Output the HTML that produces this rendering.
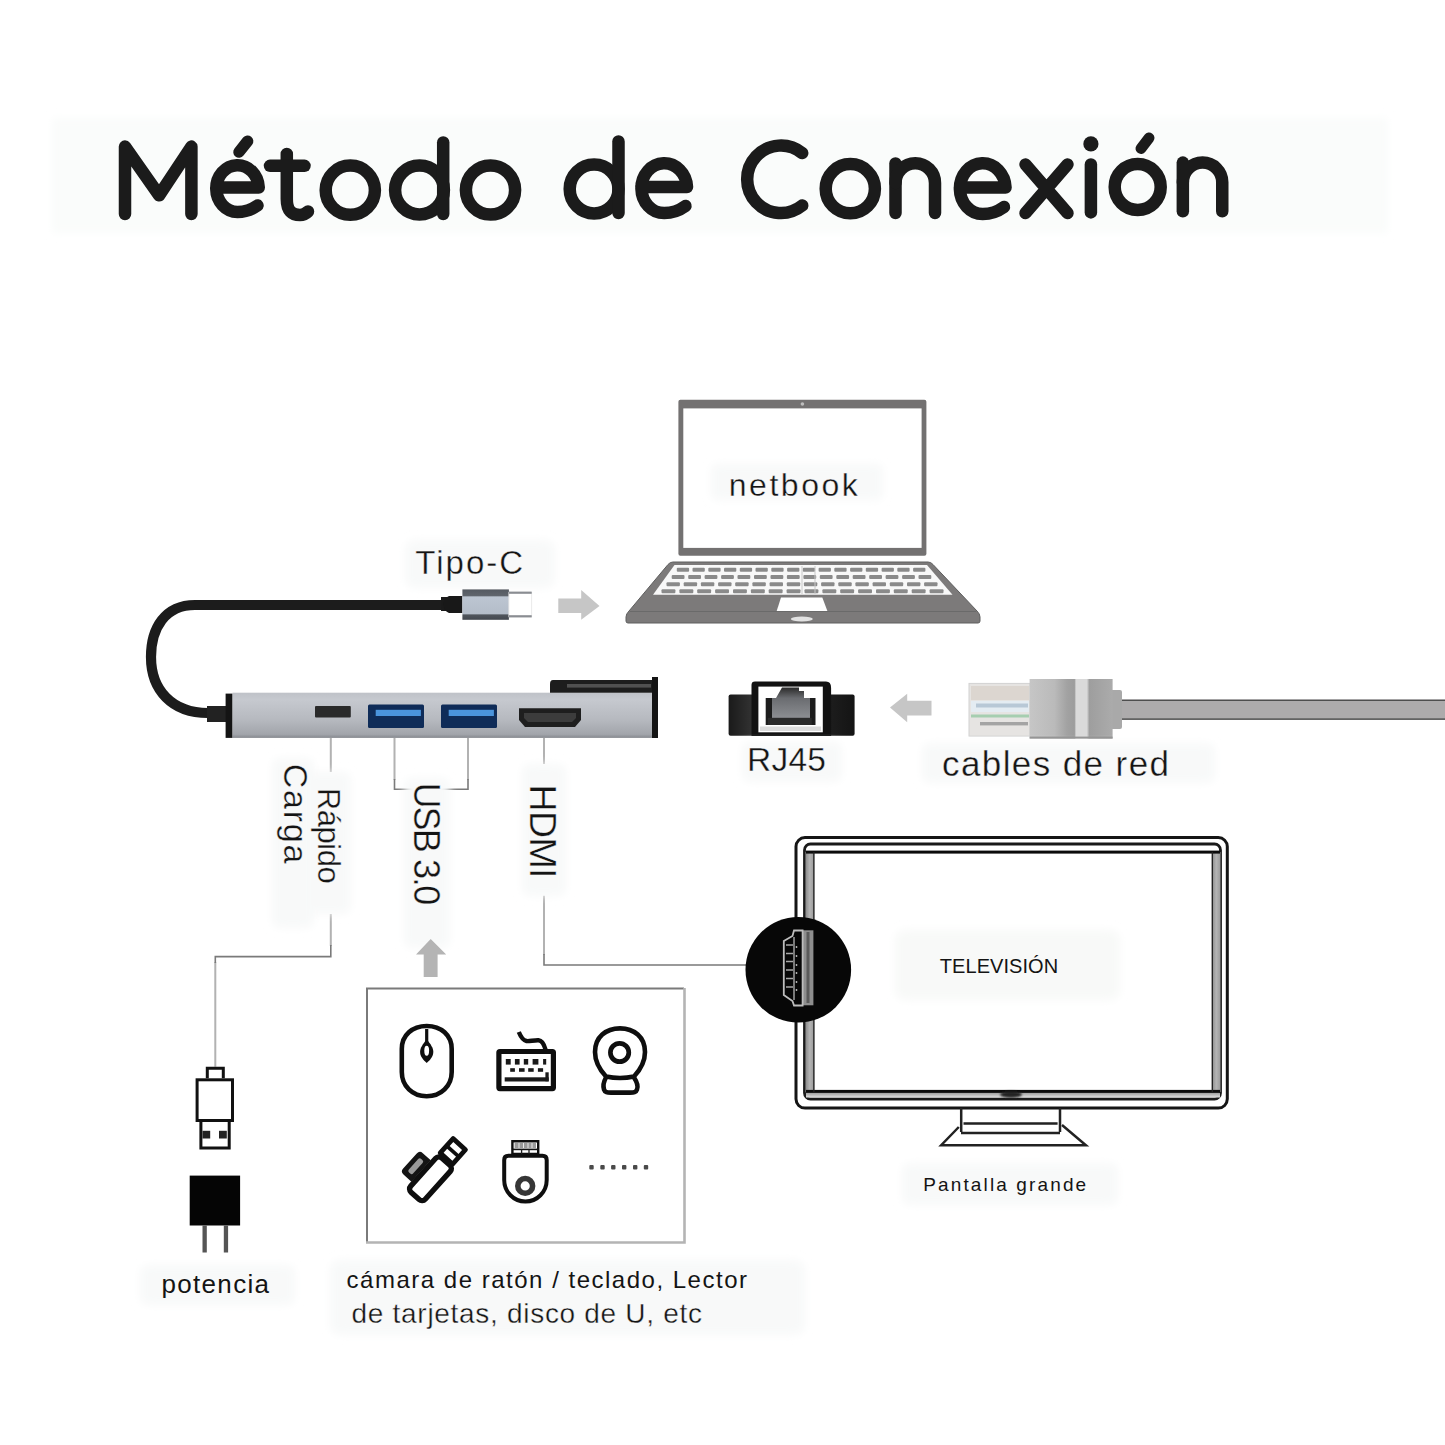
<!DOCTYPE html>
<html><head><meta charset="utf-8">
<style>
html,body{margin:0;padding:0;background:#fff;}
body{width:1445px;height:1445px;overflow:hidden;}
svg{display:block;}
text{font-family:"Liberation Sans",sans-serif;stroke:#fcfcfc;stroke-width:0.35px;}
text.sm{stroke:none;}
</style></head>
<body>
<svg width="1445" height="1445" viewBox="0 0 1445 1445">
<defs>
  <filter id="soft" x="-20%" y="-20%" width="140%" height="140%"><feGaussianBlur stdDeviation="4"/></filter>
  <filter id="soft2" x="-50%" y="-50%" width="200%" height="200%"><feGaussianBlur stdDeviation="1.2"/></filter>
  <linearGradient id="hubg" x1="0" y1="0" x2="0" y2="1">
    <stop offset="0" stop-color="#bfc2c8"/>
    <stop offset="0.15" stop-color="#c6c9cf"/>
    <stop offset="0.6" stop-color="#b6b9bf"/>
    <stop offset="0.92" stop-color="#a2a5ab"/>
    <stop offset="1" stop-color="#85888e"/>
  </linearGradient>
  <linearGradient id="tcg" x1="0" y1="0" x2="0" y2="1">
    <stop offset="0" stop-color="#555a61"/>
    <stop offset="0.2" stop-color="#5f646b"/>
    <stop offset="0.25" stop-color="#bcc5d1"/>
    <stop offset="0.8" stop-color="#b4bdc9"/>
    <stop offset="0.84" stop-color="#50555c"/>
    <stop offset="1" stop-color="#43484f"/>
  </linearGradient>
</defs>
<rect x="0" y="0" width="1445" height="1445" fill="#ffffff"/>
<!-- title band -->
<rect x="52" y="118" width="1336" height="115" fill="#fafcfb" filter="url(#soft)"/>

<!-- TITLE -->
<g fill="none" stroke="#1b1b1b" stroke-width="12.5" stroke-linecap="round" stroke-linejoin="round">
  <path d="M125 214 V146.6 L159.2 195.3 L191.4 146.6 V214"/>
  <path d="M216.25 187.5 H258.75 A21.25 23.35 0 1 0 237.5 211.95 C246.5 211.95 252.5 209 257.5 205.5"/>
  <path d="M239 152 L247.6 141.2" stroke-width="11.5"/>
  <path d="M286.8 153.9 V199 C286.8 211 292 215 300 215 C303.5 215 306 213.5 308 211.5"/>
  <path d="M270 165.8 H304.5"/>
  <circle cx="350.3" cy="190.2" r="24.6"/>
  <circle cx="419.5" cy="190" r="24.4"/>
  <path d="M443.2 142.4 V214"/>
  <circle cx="490.5" cy="190" r="24.6"/>
  <circle cx="594.1" cy="189" r="24.4"/>
  <path d="M618.5 141.5 V213"/>
  <path d="M641.4 187 H687 A22.8 24.9 0 1 0 664.2 213.1 C673.5 213.1 680 210 685.5 206"/>
  <path d="M802.2 153.1 A33.75 33.75 0 1 0 802.2 205.5"/>
  <circle cx="850.3" cy="188.7" r="24.6"/>
  <path d="M895.5 213 V163.5"/>
  <path d="M895.5 183 A19.75 19.75 0 0 1 935 183 V213"/>
  <path d="M959.85 187.5 H1005.55 A22.85 25.4 0 1 0 982.7 214.05 C992 214.05 998.5 211 1004 207"/>
  <path d="M1025.5 164.5 L1067.5 213 M1067.5 164.5 L1025.5 213"/>
  <path d="M1090.9 164.5 V212.4"/>
  <circle cx="1137.7" cy="187" r="23"/>
  <path d="M1141 148.5 L1149 138" stroke-width="11"/>
  <path d="M1182.85 211.35 V162.6"/>
  <path d="M1182.85 182.25 A19.7 19.7 0 0 1 1222.25 182.25 V211.35"/>
</g>
<circle cx="1090.9" cy="143.9" r="7.6" fill="#1b1b1b"/>


<!-- LAPTOP -->
<rect x="678.4" y="399.7" width="248" height="156" rx="2" fill="#737171"/>
<rect x="683.3" y="408.4" width="238.3" height="139.5" fill="#ffffff"/>
<circle cx="802.4" cy="404" r="1.8" fill="#bdbdbd"/>
<rect x="711" y="464" width="172" height="36" rx="6" fill="#f8f9f9" filter="url(#soft)"/>
<text x="728.8" y="495.6" font-size="32" fill="#141414" textLength="129" lengthAdjust="spacing">netbook</text>
<path d="M673 562 H928 Q931 562 933 564.5 L977 611 Q980 614 980 617 V621 Q980 623 978 623 H628 Q626 623 626 621 V617 Q626 614 629 611 L668 564.5 Q670 562 673 562 Z" fill="#7c7a7a" stroke="#5e5e5e" stroke-width="1"/>
<path d="M674.5 565 H927 L952.5 594.8 H653 Z" fill="#f8f8f8"/>
<g fill="#8a8a8a"><rect x="676.8" y="567.8" width="12.3" height="4" rx="1"/><rect x="692.5" y="567.8" width="12.3" height="4" rx="1"/><rect x="708.3" y="567.8" width="12.3" height="4" rx="1"/><rect x="724.0" y="567.8" width="12.3" height="4" rx="1"/><rect x="739.8" y="567.8" width="12.3" height="4" rx="1"/><rect x="755.5" y="567.8" width="12.3" height="4" rx="1"/><rect x="771.3" y="567.8" width="12.3" height="4" rx="1"/><rect x="787.1" y="567.8" width="12.3" height="4" rx="1"/><rect x="802.8" y="567.8" width="12.3" height="4" rx="1"/><rect x="818.6" y="567.8" width="12.3" height="4" rx="1"/><rect x="834.3" y="567.8" width="12.3" height="4" rx="1"/><rect x="850.1" y="567.8" width="12.3" height="4" rx="1"/><rect x="865.8" y="567.8" width="12.3" height="4" rx="1"/><rect x="881.6" y="567.8" width="12.3" height="4" rx="1"/><rect x="897.3" y="567.8" width="12.3" height="4" rx="1"/><rect x="913.1" y="567.8" width="12.3" height="4" rx="1"/><rect x="671.7" y="574.9" width="12.8" height="4" rx="1"/><rect x="688.2" y="574.9" width="12.8" height="4" rx="1"/><rect x="704.6" y="574.9" width="12.8" height="4" rx="1"/><rect x="721.1" y="574.9" width="12.8" height="4" rx="1"/><rect x="737.5" y="574.9" width="12.8" height="4" rx="1"/><rect x="754.0" y="574.9" width="12.8" height="4" rx="1"/><rect x="770.5" y="574.9" width="12.8" height="4" rx="1"/><rect x="786.9" y="574.9" width="12.8" height="4" rx="1"/><rect x="803.4" y="574.9" width="12.8" height="4" rx="1"/><rect x="819.8" y="574.9" width="12.8" height="4" rx="1"/><rect x="836.3" y="574.9" width="12.8" height="4" rx="1"/><rect x="852.7" y="574.9" width="12.8" height="4" rx="1"/><rect x="869.2" y="574.9" width="12.8" height="4" rx="1"/><rect x="885.6" y="574.9" width="12.8" height="4" rx="1"/><rect x="902.1" y="574.9" width="12.8" height="4" rx="1"/><rect x="918.5" y="574.9" width="12.8" height="4" rx="1"/><rect x="666.5" y="582.2" width="13.4" height="4" rx="1"/><rect x="683.7" y="582.2" width="13.4" height="4" rx="1"/><rect x="700.9" y="582.2" width="13.4" height="4" rx="1"/><rect x="718.1" y="582.2" width="13.4" height="4" rx="1"/><rect x="735.2" y="582.2" width="13.4" height="4" rx="1"/><rect x="752.4" y="582.2" width="13.4" height="4" rx="1"/><rect x="769.6" y="582.2" width="13.4" height="4" rx="1"/><rect x="786.8" y="582.2" width="13.4" height="4" rx="1"/><rect x="803.9" y="582.2" width="13.4" height="4" rx="1"/><rect x="821.1" y="582.2" width="13.4" height="4" rx="1"/><rect x="838.3" y="582.2" width="13.4" height="4" rx="1"/><rect x="855.4" y="582.2" width="13.4" height="4" rx="1"/><rect x="872.6" y="582.2" width="13.4" height="4" rx="1"/><rect x="889.8" y="582.2" width="13.4" height="4" rx="1"/><rect x="907.0" y="582.2" width="13.4" height="4" rx="1"/><rect x="924.1" y="582.2" width="13.4" height="4" rx="1"/><rect x="661.5" y="589.3" width="13.9" height="4" rx="1"/><rect x="679.4" y="589.3" width="13.9" height="4" rx="1"/><rect x="697.2" y="589.3" width="13.9" height="4" rx="1"/><rect x="715.1" y="589.3" width="13.9" height="4" rx="1"/><rect x="733.0" y="589.3" width="13.9" height="4" rx="1"/><rect x="750.9" y="589.3" width="13.9" height="4" rx="1"/><rect x="768.7" y="589.3" width="13.9" height="4" rx="1"/><rect x="786.6" y="589.3" width="13.9" height="4" rx="1"/><rect x="804.5" y="589.3" width="13.9" height="4" rx="1"/><rect x="822.4" y="589.3" width="13.9" height="4" rx="1"/><rect x="840.2" y="589.3" width="13.9" height="4" rx="1"/><rect x="858.1" y="589.3" width="13.9" height="4" rx="1"/><rect x="876.0" y="589.3" width="13.9" height="4" rx="1"/><rect x="893.8" y="589.3" width="13.9" height="4" rx="1"/><rect x="911.7" y="589.3" width="13.9" height="4" rx="1"/><rect x="929.6" y="589.3" width="13.9" height="4" rx="1"/></g><path d="M802 566 V594 M815 566 V594" stroke="#c8c8c8" stroke-width="1"/>
<path d="M781 597.4 H822.3 L827.4 611 H776.7 Z" fill="#ffffff"/>
<rect x="630" y="611" width="346" height="1" fill="#6a6a6a"/>
<ellipse cx="801.8" cy="619" rx="11" ry="2.6" fill="#e2e2e2"/>

<!-- TIPO-C label + connector -->
<rect x="405" y="540" width="150" height="48" rx="10" fill="#f8f9f9" filter="url(#soft)"/>
<text x="415.2" y="574.2" font-size="33" fill="#141414" textLength="108" lengthAdjust="spacing">Tipo-C</text>
<path d="M441 605 H195 C165 605 151 628 151 657 C151 690 172 713 208 713" fill="none" stroke="#1c1c1c" stroke-width="10.2"/>
<rect x="207" y="706" width="19" height="16" fill="#222"/>
<rect x="441" y="597" width="10" height="14" fill="#1a1a1a"/>
<path d="M449 596 H462.4 V613 H449 Q444 611 443 604.5 Q444 598 449 596 Z" fill="#181818"/>
<rect x="462.4" y="589.4" width="46.5" height="30.4" fill="url(#tcg)"/>
<rect x="508.9" y="592.4" width="22.8" height="24.4" fill="#ffffff" stroke="#e4e4e4" stroke-width="0.8"/>
<rect x="508.9" y="591.6" width="22.8" height="2.2" fill="#8a8d92"/>
<rect x="508.9" y="615.2" width="22.8" height="2.2" fill="#8a8d92"/>
<path d="M558.3 598.5 H581.2 V590 L599.5 606 L581.2 619.8 V613 H558.3 Z" fill="#c6c6c6"/>

<!-- HUB -->
<rect x="225.6" y="693.6" width="7" height="44.3" fill="#141414"/>
<rect x="232.5" y="692.7" width="420" height="45.2" fill="url(#hubg)"/>
<path d="M553 680 H654 V692.7 H550 V684 Q550 680 553 680 Z" fill="#1d1d1d"/>
<rect x="567" y="684" width="84" height="3.6" fill="#505050"/>
<rect x="652" y="677" width="6" height="61" fill="#141414"/>
<rect x="315" y="706" width="35.8" height="11.6" rx="1" fill="#2a2a2a"/>
<rect x="368" y="704.5" width="56" height="23.4" rx="1.5" fill="#0f2c58"/>
<rect x="375.7" y="709.8" width="45.2" height="6.2" fill="#4a94dc"/>
<rect x="441" y="704.5" width="56" height="23.4" rx="1.5" fill="#0f2c58"/>
<rect x="448.7" y="709.8" width="45.2" height="6.2" fill="#4a94dc"/>
<path d="M519 708.3 H581 V720 L575 727 H525 L519 720 Z" fill="#1e1e1e"/>
<path d="M524 713 H576 V718 L572 722 H528 L524 718 Z" fill="#3c3c3c"/>

<!-- leader lines -->
<g stroke="#b2b2b2" stroke-width="2" fill="none">
  <path d="M330.8 738 V772 M330.8 914 V946 M215.3 962 V1066.8"/>
  <path d="M394.5 738 V780 M468 738 V780"/>
  <path d="M544 738 V764 M544 895.7 V955"/>
</g>
<g stroke="#7a7a7a" stroke-width="1.6" fill="none">
  <path d="M330.8 945 V956.6 H215.3 V963"/>
  <path d="M394.5 779 V789.3 H414 M440 789.3 H468 V779"/>
  <path d="M544 954 V965 H746"/>
</g>

<!-- RJ45 port -->
<defs><linearGradient id="wing" x1="0" y1="0" x2="1" y2="0">
<stop offset="0" stop-color="#1a1a1a"/><stop offset="0.25" stop-color="#3a3a3a"/><stop offset="0.6" stop-color="#262626"/><stop offset="1" stop-color="#141414"/>
</linearGradient>
<linearGradient id="jack" x1="0" y1="0" x2="0" y2="1">
<stop offset="0" stop-color="#2a2a2a"/><stop offset="0.35" stop-color="#6a6c70"/><stop offset="1" stop-color="#8c8e92"/>
</linearGradient></defs>
<rect x="728.6" y="694.4" width="126" height="41.4" rx="2" fill="url(#wing)"/>
<path d="M751.5 736 V685 Q751.5 681.6 755 681.6 H826 Q831.1 681.6 831.1 688 V736 Z" fill="#121212"/>
<rect x="758.4" y="686.6" width="64.4" height="45.7" fill="#ffffff"/>
<rect x="765.7" y="698" width="49.8" height="27" fill="#1c1c1c"/>
<path d="M776 698 L782 687.5 H799 V691 H804 V698 H810 V718 H772 V698 Z" fill="url(#jack)"/>
<rect x="767.8" y="717.8" width="44" height="7.2" fill="#2a2a2a"/>
<rect x="760" y="726.5" width="61" height="4.5" fill="#dcdcdc"/>
<path d="M890 707.6 L907.2 693.7 V700.7 H931.5 V715.4 H907.2 V722.3 Z" fill="#c6c6c6"/>
<rect x="742" y="742" width="100" height="40" rx="8" fill="#f8f9f9" filter="url(#soft)"/>
<text x="747" y="770.7" font-size="33.5" fill="#141414" textLength="79" lengthAdjust="spacing">RJ45</text>

<!-- network cable -->
<rect x="1122" y="699.6" width="323" height="20.2" fill="#adabac"/>
<rect x="1122" y="699.6" width="323" height="1.4" fill="#4e4e4e"/>
<rect x="1122" y="718.4" width="323" height="1.4" fill="#4e4e4e"/>
<rect x="1110" y="690" width="12" height="39" rx="2" fill="#a9a9a9"/>
<defs><linearGradient id="boot" x1="0" y1="0" x2="1" y2="0">
<stop offset="0" stop-color="#c6c6c6"/><stop offset="0.3" stop-color="#bababa"/><stop offset="0.45" stop-color="#a2a2a2"/><stop offset="0.54" stop-color="#9c9c9c"/><stop offset="0.56" stop-color="#dadada"/><stop offset="0.69" stop-color="#dadada"/><stop offset="0.72" stop-color="#9e9e9e"/><stop offset="1" stop-color="#ababab"/>
</linearGradient></defs>
<rect x="969" y="683.4" width="61" height="52.7" fill="#e6e4e2" stroke="#d2d2d2" stroke-width="1"/>
<rect x="971" y="686" width="58" height="14" fill="#dcd6d0"/>
<rect x="971" y="701" width="58" height="11" fill="#e4ecf2"/>
<rect x="976" y="703.5" width="52" height="4" fill="#b8c8d6"/>
<rect x="971" y="714.5" width="58" height="3" fill="#a6ceb0"/>
<rect x="980" y="722" width="48" height="3.4" fill="#a4a4a4"/>
<rect x="1029.6" y="679" width="83" height="59.7" fill="url(#boot)"/>
<rect x="1029.6" y="736.6" width="83" height="2" fill="#8a8a8a"/>
<rect x="922" y="743" width="293" height="40" rx="8" fill="#f8f9f9" filter="url(#soft)"/>
<text x="942" y="775.9" font-size="35" fill="#141414" textLength="227" lengthAdjust="spacing">cables de red</text>


<!-- vertical labels -->
<rect x="303" y="772" width="48" height="142" rx="8" fill="#f8f9f9" filter="url(#soft)"/>
<rect x="272" y="758" width="42" height="170" rx="8" fill="#f8f9f9" filter="url(#soft)"/>
<rect x="404" y="778" width="46" height="170" rx="8" fill="#f8f9f9" filter="url(#soft)"/>
<rect x="522" y="764" width="44" height="132" rx="8" fill="#f8f9f9" filter="url(#soft)"/>
<text transform="translate(317.9 787.8) rotate(90)" font-size="31" fill="#141414" textLength="96" lengthAdjust="spacing">Rápido</text>
<text transform="translate(283.5 763.8) rotate(90)" font-size="34" fill="#141414" textLength="99.5" lengthAdjust="spacing">Carga</text>
<text transform="translate(414.2 782.5) rotate(90)" font-size="36" fill="#141414" textLength="122.7" lengthAdjust="spacing">USB 3.0</text>
<text transform="translate(529.9 784.5) rotate(90)" font-size="37.5" fill="#141414" textLength="94" lengthAdjust="spacing">HDMI</text>
<path d="M430.7 939 L446.2 954.5 H437.6 V977 H423.7 V954.5 H416 Z" fill="#b4b4b4"/>

<!-- TV -->
<defs>
<linearGradient id="tvbar" x1="0" y1="0" x2="1" y2="0">
  <stop offset="0" stop-color="#8a8a8a"/><stop offset="0.5" stop-color="#b4b4b4"/><stop offset="1" stop-color="#9a9a9a"/>
</linearGradient>
<linearGradient id="tvband" x1="0" y1="0" x2="0" y2="1">
  <stop offset="0" stop-color="#9a9a9a"/><stop offset="1" stop-color="#e0e0e0"/>
</linearGradient>
</defs>
<rect x="796" y="837.6" width="431.3" height="270.5" rx="9" fill="#ffffff" stroke="#151515" stroke-width="3"/>
<rect x="804.5" y="844" width="416" height="255" rx="6" fill="#ffffff" stroke="#1a1a1a" stroke-width="2.8"/>
<rect x="805.5" y="852" width="8.5" height="240" fill="url(#tvbar)"/>
<rect x="1212" y="852" width="8.5" height="240" fill="url(#tvbar)"/>
<rect x="806" y="1092.5" width="414" height="5" fill="url(#tvband)"/>
<rect x="806" y="850.6" width="414" height="3" fill="#0c0c0c"/>
<rect x="806" y="1089.9" width="414" height="3" fill="#0c0c0c"/>
<rect x="813.2" y="852" width="1.4" height="240" fill="#222"/>
<rect x="1211.6" y="852" width="1.4" height="240" fill="#222"/>
<ellipse cx="1011" cy="1094.5" rx="11" ry="3.2" fill="#222" filter="url(#soft2)"/>
<g fill="none" stroke="#222" stroke-width="2.5">
  <path d="M961.2 1108 V1132 M1060 1108 V1132"/>
  <path d="M963.5 1123.5 H1057.6 M961 1133 H1060"/>
  <path d="M958.8 1127 L941.2 1145.2 H1085.9 L1062 1125"/>
</g>
<rect x="895" y="930" width="225" height="70" rx="10" fill="#f8f9f8" filter="url(#soft)"/>
<text class="sm" x="939.8" y="972.9" font-size="20" fill="#141414" textLength="118.4" lengthAdjust="spacing">TELEVISIÓN</text>
<rect x="902" y="1163" width="216" height="42" rx="8" fill="#f8f9f9" filter="url(#soft)"/>
<text class="sm" x="923.2" y="1190.9" font-size="19" fill="#141414" textLength="163" lengthAdjust="spacing">Pantalla grande</text>
<circle cx="798.3" cy="969.8" r="52.8" fill="#070707"/>
<rect x="802.6" y="930.3" width="10.8" height="75" fill="#8e8e8e"/>
<rect x="806.5" y="932" width="3" height="71" fill="#5a5a5a"/>
<path d="M802.6 930.5 V1005.5 H794 L792.5 1001 L783.8 995 V941 L792.5 936 L794 930.5 Z" fill="none" stroke="#bdbdbd" stroke-width="1.8"/>
<path d="M786 945 H793 M786 953.5 H793 M786 961.5 H793 M786 970 H793 M786 978.5 H793 M786 987 H793" stroke="#a8a8a8" stroke-width="1.5"/>
<path d="M794 937 V1000" stroke="#a0a0a0" stroke-width="1.5"/>
<g fill="#c0c0c0"><circle cx="796.5" cy="947" r="0.9"/><circle cx="796.5" cy="956" r="0.9"/><circle cx="796.5" cy="965" r="0.9"/><circle cx="796.5" cy="973" r="0.9"/><circle cx="796.5" cy="982" r="0.9"/><circle cx="796.5" cy="990" r="0.9"/></g>

<!-- icons box -->
<path d="M367 1242 V988.5 H684" fill="none" stroke="#7a7a7a" stroke-width="2"/>
<path d="M684.5 988 V1242.5 H366" fill="none" stroke="#b4b4b4" stroke-width="2.6"/>
<g fill="none" stroke="#0e0e0e" stroke-width="4.6" stroke-linecap="round" stroke-linejoin="round">
  <path d="M426.7 1026 C441 1026 451.7 1035 451.7 1049 V1072 C451.7 1086 441 1096.3 426.7 1096.3 C412.4 1096.3 401.8 1086 401.8 1072 V1049 C401.8 1035 412.4 1026 426.7 1026 Z"/>
  <rect x="498.9" y="1051.5" width="54.5" height="37.1" rx="1" stroke-width="5.2" stroke-linejoin="miter"/>
  <path d="M545.5 1049.5 C544 1044 542 1040.5 538.5 1040.2 C534 1040 529 1041.5 526.5 1041 C522 1040 520 1035 518.8 1032" stroke-width="4.4" stroke-linecap="butt"/>
  <path d="M606 1076.5 C599 1069 595 1062 595 1052 C595 1037 606 1028.4 620 1028.4 C634 1028.4 645 1037 645 1052 C645 1062 641 1069 634 1076.5 Q620 1079.5 606 1076.5 Z"/>
  <circle cx="619.6" cy="1052.5" r="9.2" stroke-width="4.7"/>
  <path d="M606 1077.5 C603.5 1082 603.2 1087 604 1089.5 C605 1092.5 607 1092.6 611 1092.6 H630 C634 1092.6 636 1092.5 637 1089.5 C638 1087 637 1082 634 1077.5"/>
  <path d="M504.2 1160 Q504.2 1155.8 508.4 1155.8 H542.5 Q546.7 1155.8 546.7 1160 V1180 A21.25 21.6 0 0 1 504.2 1180 Z" stroke-width="4"/>
  <path d="M512.4 1141.2 H538.2 V1154 H512.4 Z" stroke-width="2.4" stroke-linejoin="miter"/>
</g>
<path d="M426.7 1029 V1045" stroke="#0e0e0e" stroke-width="3.2"/>
<path d="M426.7 1039.5 C431 1044.5 433.3 1048 433.3 1052 C433.3 1056.5 430 1060 426.7 1063 C423.4 1060 420.1 1056.5 420.1 1052 C420.1 1048 422.5 1044.5 426.7 1039.5 Z" fill="#0e0e0e"/>
<ellipse cx="426.7" cy="1050.8" rx="2.4" ry="5" fill="#fff"/>
<g fill="#1a1a1a">
  <rect x="505.8" y="1059" width="4.9" height="5.6"/><rect x="514.9" y="1059" width="4.7" height="5.6"/><rect x="523.8" y="1059" width="4.4" height="5.6"/><rect x="532.6" y="1059" width="5.8" height="5.6"/><rect x="543.1" y="1059" width="3.1" height="5.6"/>
  <rect x="510.2" y="1068.2" width="4.7" height="3.6"/><rect x="519" y="1068.2" width="5.6" height="3.6"/><rect x="528.2" y="1068.2" width="5.5" height="3.6"/><rect x="537.9" y="1068.2" width="5.2" height="3.6"/>
  <rect x="504.7" y="1077.3" width="44" height="4.2"/><rect x="545.4" y="1072.3" width="3.3" height="9"/>
</g>
<rect x="514.6" y="1143" width="21.4" height="5" fill="#9a9a9a"/>
<path d="M519 1143 V1148 M523.5 1143 V1148 M528 1143 V1148 M532 1143 V1148" stroke="#e8e8e8" stroke-width="1"/>
<path d="M512.4 1149.4 H538.2" stroke="#111" stroke-width="1.6"/>
<path d="M521.6 1149.5 V1154 M529 1149.5 V1154" stroke="#222" stroke-width="1.3"/>
<circle cx="525.2" cy="1185.9" r="7.4" fill="none" stroke="#363636" stroke-width="5.6"/>
<!-- usb stick rotated -->
<g transform="translate(430.2 1178.5) rotate(-48) scale(1.07)">
  <path d="M-14 -11 V-21 Q-14 -25 -10 -25 H9 Q13 -25 13 -21 V-11 Z" fill="#141414"/>
  <rect x="-9" y="-20.5" width="17" height="5.5" rx="2" fill="#9a9a9a"/>
  <g fill="none" stroke="#0e0e0e" stroke-linejoin="round">
    <rect x="-21.5" y="-8.8" width="43" height="18.3" rx="4" stroke-width="5" fill="#fff"/>
    <rect x="24" y="-9" width="18" height="15.5" stroke-width="4.5"/>
    <path d="M33 -9 V6.5" stroke-width="3.5"/>
  </g>
</g>
<g fill="#4a4a4a">
  <rect x="589.3" y="1165" width="4.4" height="4.6" rx="1"/><rect x="600.3" y="1165" width="4.4" height="4.6" rx="1"/><rect x="611.1" y="1165" width="4.4" height="4.6" rx="1"/><rect x="622.0" y="1165" width="4.4" height="4.6" rx="1"/><rect x="633.0" y="1165" width="4.4" height="4.6" rx="1"/><rect x="643.8" y="1165" width="4.4" height="4.6" rx="1"/>
</g>

<!-- charger -->
<g fill="none" stroke="#111" stroke-width="3">
  <path d="M207.3 1078.3 V1068.3 H223.3 V1078.3"/>
  <rect x="197.1" y="1079.8" width="35.4" height="40.7"/>
  <path d="M200.9 1120.5 V1148 H229.2 V1120.5"/>
</g>
<rect x="202.5" y="1130.8" width="7.7" height="7.7" fill="#222"/>
<rect x="219" y="1130.8" width="7.8" height="7.7" fill="#222"/>
<rect x="189.7" y="1175.6" width="50.4" height="49.9" fill="#050505"/>
<rect x="202.5" y="1225.5" width="4.3" height="27" fill="#555"/>
<rect x="223.8" y="1225.5" width="4.3" height="27" fill="#555"/>

<!-- bottom texts -->
<rect x="140" y="1265" width="155" height="40" rx="8" fill="#f8f9f9" filter="url(#soft)"/>
<text class="sm" x="161.5" y="1293.4" font-size="26" fill="#141414" textLength="107.5" lengthAdjust="spacing">potencia</text>
<rect x="330" y="1260" width="475" height="75" rx="10" fill="#f8f9f9" filter="url(#soft)"/>
<text class="sm" x="346.6" y="1287.6" font-size="24" fill="#141414" textLength="400.4" lengthAdjust="spacing">cámara de ratón / teclado, Lector</text>
<text x="351.6" y="1323.1" font-size="28" fill="#141414" textLength="350.4" lengthAdjust="spacing">de tarjetas, disco de U, etc</text>

</svg>
</body></html>
